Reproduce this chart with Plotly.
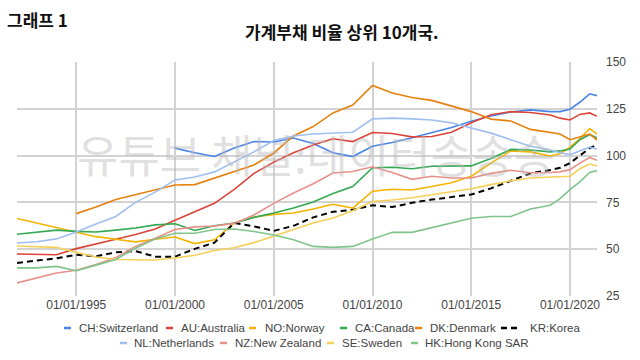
import plotly.graph_objects as go

# ---------------- data ----------------
dates = ["1992-01-01", "1993-01-01", "1994-01-01", "1995-01-01", "1996-01-01",
         "1997-01-01", "1998-01-01", "1999-01-01", "2000-01-01", "2001-01-01",
         "2002-01-01", "2003-01-01", "2004-01-01", "2005-01-01", "2006-01-01",
         "2007-01-01", "2008-01-01", "2009-01-01", "2010-01-01", "2011-01-01",
         "2012-01-01", "2013-01-01", "2014-01-01", "2015-01-01", "2016-01-01",
         "2017-01-01", "2018-01-01", "2019-01-01", "2019-07-01", "2020-01-01",
         "2020-07-01", "2021-01-01", "2021-05-15"]

ch = [None, None, None, None, None, None, None, None, 104, 101.5,
      99.5, 104, 107.5, 107.3, 109.4, 106.5, 101.5, 99.5, 105, 107,
      109.5, 112.2, 115, 118.3, 121.2, 123.3, 124.4, 123.5, 123.5, 124.8,
      128.5, 133, 132]
au = [47.4, 47.2, 47, 50.3, 53, 55.3, 57.8, 60.8, 65.5, 70,
      74.5, 82, 90.5, 96.5, 101.5, 105.7, 109, 107.5, 112.3, 111.8,
      110, 110.2, 112.5, 117.5, 121.8, 123.5, 123, 121.7, 120, 119,
      122, 122.8, 121]
no = [66.4, 64, 61.8, 59.4, 56.7, 55.3, 53.9, 55.3, 56.5, 53,
      55, 64, 67.2, 68.6, 69.3, 71.5, 74, 72, 81, 82,
      81.6, 83.5, 85.5, 89, 96, 102.5, 102, 99.8, 101, 104.5,
      109, 114.5, 111.5]
ca = [58, 59, 60.2, 59.5, 59.2, 60.2, 61.3, 63, 63.6, 60,
      62.5, 64, 67, 69.3, 72, 75.2, 79.8, 83.5, 93.5, 93.8,
      93, 94.3, 94.4, 94.5, 98.5, 103.3, 103, 102, 102.5, 103.5,
      108.5, 111.3, 109.4]
dk = [None, None, None, 69, 72.5, 76.5, 79, 81.5, 84.3, 84.5,
      88, 91.5, 95, 101.4, 110.5, 115.5, 122.8, 127, 137.5, 133.4,
      131, 129.5, 126.5, 123.5, 119.5, 118.5, 114, 112.5, 111.5, 108.5,
      110, 111.5, 108.3]
kr = [42.6, 43.8, 45.2, 47, 46.2, 48.3, 49, 46, 46, 50.2,
      53.5, 64, 62.2, 59.8, 62.5, 67, 70, 71, 73.5, 72.5,
      74.8, 76.5, 78, 79.2, 82.5, 86.5, 90.5, 92.3, 93.5, 96,
      100, 104, 105.7]
nl = [53.3, 54, 55.5, 59.2, 63.5, 67.5, 75, 80.5, 87, 88.6,
      91.3, 96.5, 102, 108, 110.5, 111.5, 112, 112.5, 119.6, 120,
      119.6, 119, 117.5, 114.7, 112, 108.5, 105, 103, 101.5, 100.5,
      102.5, 104.5, 103.5]
nz = [32, 34.8, 37.3, 38.8, 41.8, 45.5, 51.5, 55.8, 60.5, 61.9,
      62.4, 63.8, 68.3, 74.5, 80, 85, 90.7, 91.5, 94, 91,
      87.3, 89, 88, 88, 90.5, 92.2, 90.8, 91, 91.3, 92.5,
      96, 99, 97.5]
se = [51.7, 51.5, 51, 48.3, 45.8, 44.5, 44.2, 44.2, 45.3, 46.8,
      49.3, 50.8, 53.5, 57, 60.8, 64, 66.7, 70.5, 75.5, 76.3,
      77.5, 79, 80.5, 82.3, 84.5, 86.5, 88, 88.3, 88.5, 89,
      93, 95.5, 94.5]
hk = [40, 40, 40.8, 38.5, 41.5, 44.5, 50.5, 55.5, 58.5, 58.5,
      60.5, 60.8, 59.5, 57.6, 55, 51.5, 51, 51.5, 55.5, 59,
      59, 61.5, 64, 66.5, 67.5, 67.5, 71.5, 73.5, 77, 81.8,
      86, 91, 92]

names = ["CH:Switzerland", "AU:Australia", "NO:Norway", "CA:Canada", "DK:Denmark",
         "KR:Korea", "NL:Netherlands", "NZ:New Zealand", "SE:Sweden", "HK:Hong Kong SAR"]
values = [ch, au, no, ca, dk, kr, nl, nz, se, hk]
colors = ["#4a86e8", "#db4437", "#f4b400", "#34a853", "#e8800f",
          "#000000", "#9fbff0", "#e8918a", "#f6d15a", "#80c48c"]

title_text = "가계부채 비율 상위 10개국."
corner_text = "그래프 1"
watermark_text = "유튜브 채널:데이터송송송"
y_ticks = [25, 50, 75, 100, 125, 150]
x_ticks = ["1995-01-01", "2000-01-01", "2005-01-01", "2010-01-01",
           "2015-01-01", "2020-01-01"]

# ---------------- layout geometry (pixels) ----------------
W, H = 640, 360
PL, PR, PT, PB = 17, 597, 62, 296
GRID = "#d3d3d3"


def px_x(px):
    return (px - PL) / (PR - PL)


def px_y(py):
    return (PB - py) / (PB - PT)


# legend: (symbol start x, text start x, row y)
legend_pos = [(64, 77, 328), (166, 179, 328), (249, 263, 328), (340, 353, 328),
              (415, 428, 328), (501, 528, 328),
              (120, 132, 343), (220, 233, 343), (327, 340, 343), (411, 423, 343)]

fig = go.Figure()
for name, vals, col in zip(names, values, colors):
    is_kr = name.startswith("KR")
    fig.add_trace(go.Scatter(
        x=dates, y=vals, mode="lines", name=name,
        line=dict(color=col, width=2 if is_kr else 1.6,
                  dash="6px,4px" if is_kr else "solid"),
        showlegend=False, hoverinfo="skip"))

shapes = []
annotations = []

for (sx, tx, ry), name, col in zip(legend_pos, names, colors):
    is_kr = name.startswith("KR")
    length = 17 if is_kr else 7
    shapes.append(dict(type="line", xref="paper", yref="paper",
                       x0=px_x(sx), x1=px_x(sx + length), y0=px_y(ry), y1=px_y(ry),
                       line=dict(color=col, width=2.5,
                                 dash="6px,4px" if is_kr else "solid")))
    annotations.append(dict(xref="paper", yref="paper", x=px_x(tx), y=px_y(ry),
                            xanchor="left", yanchor="middle", showarrow=False,
                            text=name, font=dict(family="Liberation Sans", size=11.5,
                                                 color="#444444")))

# watermark (semi-transparent so the lines show through)
annotations.append(dict(xref="paper", yref="paper", x=px_x(316), y=px_y(153),
                        xanchor="center", yanchor="middle", showarrow=False,
                        text=watermark_text,
                        font=dict(family="Noto Sans CJK KR", size=45,
                                  color="rgba(185,185,185,0.45)")))

annotations.append(dict(xref="paper", yref="paper", x=px_x(342), y=px_y(31),
                        xanchor="center", yanchor="middle", showarrow=False,
                        text="<b>" + title_text + "</b>",
                        font=dict(family="Noto Sans CJK KR", size=17, color="#111111")))
annotations.append(dict(xref="paper", yref="paper", x=px_x(5), y=px_y(20),
                        xanchor="left", yanchor="middle", showarrow=False,
                        text="<b>" + corner_text + "</b>",
                        font=dict(family="Noto Sans CJK KR", size=17, color="#111111")))

fig.update_layout(
    width=W, height=H,
    margin=dict(l=PL, r=W - PR, t=PT, b=H - PB, pad=0),
    paper_bgcolor="white", plot_bgcolor="white",
    showlegend=False,
    shapes=shapes, annotations=annotations,
    xaxis=dict(type="date", range=["1992-01-01", "2021-05-15"],
               tickvals=x_ticks, tickformat="%m/%d/%Y",
               showgrid=True, gridcolor=GRID, gridwidth=1.5,
               showline=False, zeroline=False, ticks="",
               tickfont=dict(family="Liberation Sans", size=12, color="#444444")),
    yaxis=dict(range=[25, 150], tickvals=y_ticks, side="right",
               showgrid=True, gridcolor=GRID, gridwidth=1.5,
               showline=False, zeroline=False, ticks="", ticklabelstandoff=8,
               tickfont=dict(family="Liberation Sans", size=12, color="#444444")),
)

fig.write_html("out.html", config={"displayModeBar": False},
               post_script="document.body.style.margin='0';")
